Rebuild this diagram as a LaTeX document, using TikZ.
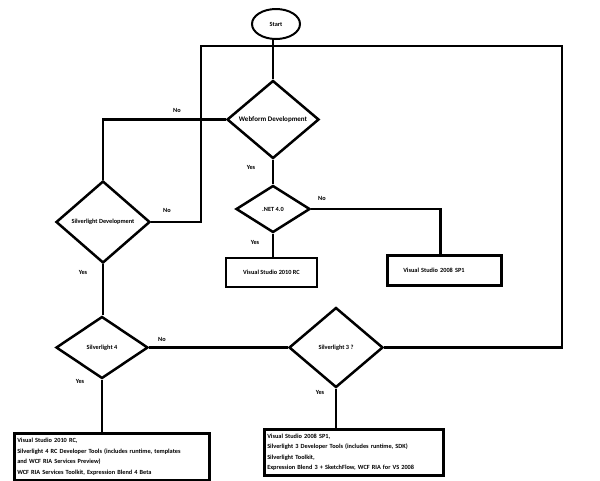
\documentclass[tikz,border=0pt]{standalone}
\usepackage{fontspec}
\setmainfont{Carlito}
\usetikzlibrary{shapes.geometric}

\begin{document}
\begin{tikzpicture}[x=1pt,y=-1pt,
  every node/.style={font=\fontsize{6.3}{10.4}\selectfont\bfseries},
  line/.style={line width=2.5pt},
  decision/.style={diamond,draw,line width=2.5pt,inner sep=0pt},
  terminal/.style={ellipse,draw,line width=2pt,inner sep=0pt},
  result/.style={rectangle,draw,line width=2.5pt,inner sep=3pt},
  lbl/.style={inner sep=0pt}]
\useasboundingbox (0,0) rectangle (600,480);
\node[terminal,minimum width=48pt,minimum height=30pt] (start) at (276,24) {Start};
\node[decision,minimum width=92pt,minimum height=78pt,font=\fontsize{7}{8}\selectfont\bfseries] (web) at (273,119.5) {Webform Development};
\node[decision,minimum width=94pt,minimum height=82pt] (sld) at (103,222) {Silverlight Development};
\node[decision,minimum width=74pt,minimum height=47pt] (net) at (273,209) {.NET 4.0};
\node[result,minimum width=91pt,minimum height=29pt] (vs10) at (271.5,272.5) {Visual Studio 2010 RC};
\node[result,anchor=north west,inner xsep=16pt,text width=82pt,minimum height=30pt,align=left] (vs08) at (386,254) {Visual Studio 2008 SP1};
\node[decision,minimum width=92pt,minimum height=62pt] (sl4) at (102,347.5) {Silverlight 4};
\node[decision,minimum width=94pt,minimum height=80pt] (sl3) at (336,347.5) {Silverlight 3 ?};
\node[result,anchor=north west,text width=189pt,minimum height=47pt,align=left] (kit4) at (13,432) {Visual Studio 2010 RC,\\
  Silverlight 4 RC Developer Tools (includes runtime, templates\\
  and WCF RIA Services Preview)\\
  WCF RIA Services Toolkit, Expression Blend 4 Beta};
\node[result,anchor=north west,text width=173pt,minimum height=46pt,align=left] (kit3) at (263,428) {Visual Studio 2008 SP1,\\
  Silverlight 3 Developer Tools (includes runtime, SDK)\\
  Silverlight Toolkit,\\
  Expression Blend 3 + SketchFlow, WCF RIA for VS 2008};
\node[lbl] (webno) at (177,110) {No};
\node[lbl] (webyes) at (251,167) {Yes};
\node[lbl] (sldno) at (167,210) {No};
\node[lbl] (sldyes) at (83,272) {Yes};
\node[lbl] (netno) at (322,198) {No};
\node[lbl] (netyes) at (255,242) {Yes};
\node[lbl] (sl4no) at (162,339) {No};
\node[lbl] (sl4yes) at (80,381) {Yes};
\node[lbl] (sl3yes) at (320,392) {Yes};
\coordinate (loopL) at (201,46);
\coordinate (loopR) at (562,46);
\draw[line] (web.north |- start.south) -- (web.north);
\draw[line] (sld.east) -| (loopL) -- (loopR) |- (sl3.east);
\draw[line] (web.west) -| (sld.north);
\draw[line] (web.south) -- (net.north);
\draw[line] (net.east) -| ([xshift=-4pt]vs08.north);
\draw[line] (net.south) -- (net.south |- vs10.north);
\draw[line] (sld.south) -- (sld.south |- sl4.north);
\draw[line] (sl4.east) -- (sl3.west);
\draw[line] (sl4.south) -- (sl4.south |- kit4.north);
\draw[line] (sl3.south) -- (sl3.south |- kit3.north);
\end{tikzpicture}
\end{document}
